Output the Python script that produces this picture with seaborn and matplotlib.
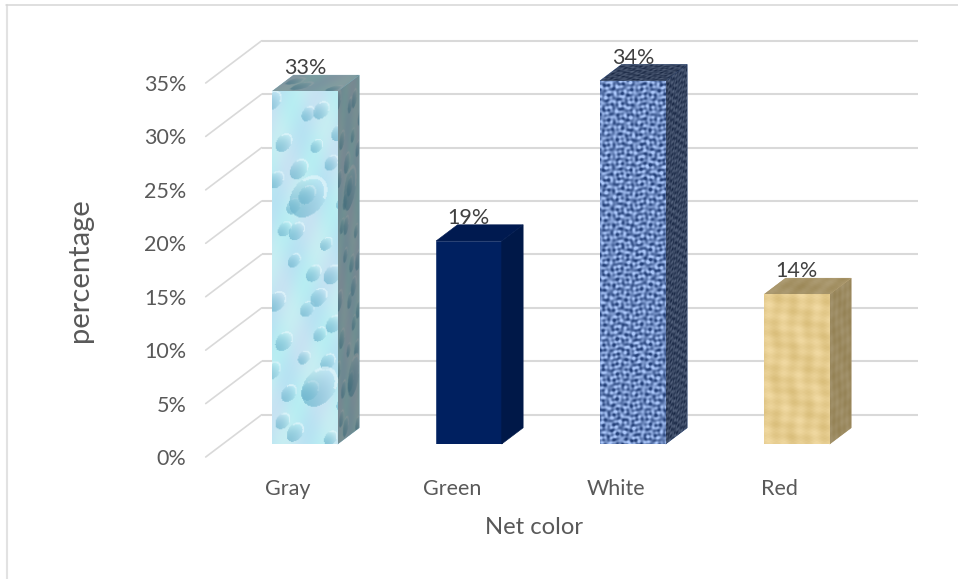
import numpy as np
import pandas as pd
import matplotlib
matplotlib.use("Agg")
import matplotlib.pyplot as plt
from matplotlib.lines import Line2D
from matplotlib.patches import Polygon
from matplotlib.transforms import Affine2D, IdentityTransform
import seaborn as sns

# Chart values
categories = ["Gray", "Green", "White", "Red"]
percentages = [33, 19, 34, 14]
y_ticks = [0, 5, 10, 15, 20, 25, 30, 35]

# Per-bar colours: front (fallback), side face, top face
front_colors = ["#BDE6F2", "#002060", "#6F93CF", "#EBD193"]
side_colors = ["#6F9BA8", "#001848", "#2F4A7C", "#A8946A"]
top_colors = ["#7AA3AE", "#001A50", "#34507F", "#B39D70"]
side_shade = [0.60, 1.0, 0.52, 0.68]
top_shade = [0.66, 1.0, 0.50, 0.72]

GRID = "#D9D9D9"
TICK_TEXT = "#595959"
VALUE_TEXT = "#404040"

W, H, DPI = 958, 579, 100
# Plot box of the front plane, in pixels from the top-left corner
LEFT, RIGHT, BASE, TOP = 205.7, 861.7, 457.0, 83.0
# Oblique projection of the full floor depth, in pixels
DEPTH_X, DEPTH_Y = 56.0, 42.3
BAR_NEAR, BAR_FAR = 0.307, 0.69

sns.set_theme(style="white")
plt.rcParams["font.family"] = ["Lato", "DejaVu Sans"]

df = pd.DataFrame({"Net color": categories, "percentage": percentages})


def water_texture(h=360, w=70):
    """Pale blue surface covered with slanted droplets."""
    yy, xx = np.mgrid[0:h, 0:w].astype(float)
    rgb = np.zeros((h, w, 3))
    rgb[..., 0] = 0.75 + 0.03 * np.sin(xx / 9.0 + yy / 23.0)
    rgb[..., 1] = 0.91 + 0.02 * np.sin(xx / 7.0 - yy / 17.0)
    rgb[..., 2] = 0.95
    # Drops on a staggered lattice, nudged so that rows do not read as lines
    drops = []
    for row in range(11):
        for col in range(3):
            k = row * 3 + col + 1
            cx = (col + 0.25 + 0.5 * (row % 2)) * 25 + 7 * np.sin(k * 2.4)
            cy = row * 33 + 14 + 9 * np.sin(k * 1.7)
            drops.append((cx, cy, 6.5 + 3.5 * ((k * 0.3819) % 1)))
    drops += [(38, 252, 20), (50, 58, 19)]
    cos, sin = np.cos(np.radians(50)), np.sin(np.radians(50))
    for cx, cy, r in drops:
        dx, dy = xx - cx, yy - cy
        u = dx * cos + dy * sin
        v = -dx * sin + dy * cos
        d = (u / (r * 1.2)) ** 2 + (v / (r * 0.85)) ** 2
        mask = d < 1
        # Dome shading: deeper towards the lower-left of each drop
        shade = np.clip(0.40 - 0.40 * (u / (r * 1.2)) - 0.15 * d, 0, 0.68)
        for c, tone in enumerate((0.42, 0.70, 0.80)):
            rgb[..., c][mask] = (rgb[..., c] * (1 - shade) + tone * shade)[mask]
        rim = (d > 0.70) & (d < 1) & (u > 0.45 * r)
        rgb[rim] = rgb[rim] * 0.35 + 0.65 * np.array([0.90, 0.97, 0.99])
    return np.clip(rgb, 0, 1)


def canvas_texture(h=360, w=70):
    """Coarse blue woven cloth with uneven threads."""
    yy, xx = np.mgrid[0:h, 0:w].astype(float)
    warp = np.sin(xx * 1.27 + 0.9 * np.sin(yy * 0.19))
    weft = np.sin(yy * 1.27 + 0.9 * np.sin(xx * 0.23))
    slub = (np.sin(xx * 0.47 + yy * 0.21) * np.sin(yy * 0.53 - xx * 0.17)
            + 0.8 * np.sin(xx * 0.83 - yy * 0.37) * np.sin(yy * 0.91 + xx * 0.29)
            + 0.6 * np.sin(xx * 0.31 - yy * 0.67) * np.sin(xx * 0.71 + yy * 0.13))
    t = np.clip(0.52 + 0.13 * warp + 0.20 * weft + 0.30 * slub, 0, 1)[..., None]
    dark = np.array([0.14, 0.25, 0.47])
    light = np.array([0.68, 0.79, 0.99])
    return dark * (1 - t) + light * t


def papyrus_texture(h=360, w=70):
    """Sandy parchment with faint fibres."""
    yy, xx = np.mgrid[0:h, 0:w].astype(float)
    t = (0.5 * np.sin(xx * 0.37 + 0.5 * np.sin(yy * 0.05)) + 0.35 * np.sin(yy * 0.23 + xx * 0.03)
         + 0.22 * np.sin(xx * 1.1) * np.sin(yy * 0.9) + 0.4 * np.sin(yy * 0.06 + xx * 0.13))
    t = np.clip(0.5 + 0.30 * t, 0, 1)[..., None]
    dark = np.array([0.84, 0.73, 0.46])
    light = np.array([0.96, 0.87, 0.66])
    return dark * (1 - t) + light * t


textures = [water_texture(), None, canvas_texture(), papyrus_texture()]

fig = plt.figure(figsize=(W / DPI, H / DPI), dpi=DPI, facecolor="white")


def box(left, right, bottom, top):
    return [left / W, (H - bottom) / H, (right - left) / W, (bottom - top) / H]


ax = fig.add_axes(box(LEFT, RIGHT, BASE, TOP))
ax.set_xlim(-0.5, 3.5)
ax.set_ylim(0, 35)
ax.set_facecolor("none")
for spine in ax.spines.values():
    spine.set_visible(False)

# Chart frame: left and top edges only
fig.add_artist(Line2D([6.5 / W, 6.5 / W], [0, 1 - 4.5 / H], color="#E2E2E2", lw=1.5))
fig.add_artist(Line2D([6 / W, 1], [1 - 4.5 / H] * 2, color="#D6D6D6", lw=1.1))

# Back wall and side wall gridlines
wall = Affine2D().translate(DEPTH_X, DEPTH_Y)
for tick in y_ticks:
    ax.plot([-0.5, 3.5], [tick, tick], color=GRID, lw=1.5, clip_on=False,
            transform=ax.transData + wall, solid_capstyle="butt", zorder=1)
    x0, y0 = ax.transData.transform((-0.5, tick))
    ax.add_line(Line2D([x0, x0 + DEPTH_X], [y0, y0 + DEPTH_Y], color=GRID, lw=1.2,
                       transform=IdentityTransform(), clip_on=False, zorder=1))

ax.set_xticks(range(len(categories)))
ax.set_xticklabels(categories)
ax.set_yticks(y_ticks)
ax.set_yticklabels([f"{t}%" for t in y_ticks])
ax.tick_params(axis="x", length=0, pad=16, labelsize=15.5, labelcolor=TICK_TEXT)
ax.tick_params(axis="y", length=0, pad=14, labelsize=15.5, labelcolor=TICK_TEXT)
ax.set_xlabel("Net color", fontsize=17.2, color=TICK_TEXT, va="center")
ax.set_ylabel("percentage", fontsize=21, color=TICK_TEXT, va="center")
ax.xaxis.set_label_coords(0.5, (BASE - 528) / (BASE - TOP))
ax.yaxis.set_label_coords((80 - LEFT) / (RIGHT - LEFT), 0.5)

# Bars sit on a plane shifted into the floor depth
near_x, near_y = BAR_NEAR * DEPTH_X, BAR_NEAR * DEPTH_Y
ax_bars = fig.add_axes(box(LEFT + near_x, RIGHT + near_x, BASE - near_y, TOP - near_y))
ax_bars.patch.set_alpha(0)
sns.barplot(data=df, x="Net color", y="percentage", hue="Net color", hue_order=categories,
            palette=front_colors, width=0.4, saturation=1, legend=False, ax=ax_bars, zorder=2)
ax_bars.set_xlim(-0.5, 3.5)
ax_bars.set_ylim(0, 35)
ax_bars.set_autoscale_on(False)
ax_bars.axis("off")

bars = sorted(ax_bars.patches, key=lambda p: p.get_x())
extra_x = (BAR_FAR - BAR_NEAR) * DEPTH_X
extra_y = (BAR_FAR - BAR_NEAR) * DEPTH_Y


def textured(tex, origin, u, v, outline, zorder=3):
    matrix = Affine2D.from_values(u[0], u[1], v[0], v[1], origin[0], origin[1])
    rgba = np.dstack([tex, np.ones(tex.shape[:2])])
    image = ax_bars.imshow(rgba, extent=(0, 1, 0, 1), origin="lower", aspect="auto",
                           interpolation="bilinear", transform=matrix, zorder=zorder)
    image.set_clip_path(Polygon(outline, closed=True, transform=IdentityTransform()))
    image.set_clip_box(fig.bbox)


for i, bar in enumerate(bars):
    xa, ya = ax_bars.transData.transform((bar.get_x(), 0))
    xb, yb = ax_bars.transData.transform((bar.get_x() + bar.get_width(), bar.get_height()))
    front = [(xa, ya), (xb, ya), (xb, yb), (xa, yb)]
    side = [(xb, ya), (xb + extra_x, ya + extra_y), (xb + extra_x, yb + extra_y), (xb, yb)]
    top = [(xa, yb), (xb, yb), (xb + extra_x, yb + extra_y), (xa + extra_x, yb + extra_y)]
    bar.set_edgecolor(front_colors[i])
    bar.set_linewidth(0.4)
    for pts, colour in ((side, side_colors[i]), (top, top_colors[i])):
        ax_bars.add_patch(Polygon(pts, closed=True, facecolor=colour, edgecolor=colour, lw=0.4,
                                  transform=IdentityTransform(), clip_on=False, zorder=2))
    if textures[i] is not None:
        tex = textures[i]
        textured(tex, (xa, ya), (xb - xa, 0), (0, yb - ya), front)
        textured(tex * side_shade[i], (xb, ya), (extra_x, extra_y), (0, yb - ya), side)
        textured(tex[:40] * top_shade[i], (xa, yb), (xb - xa, 0), (extra_x, extra_y), top)
    ax_bars.annotate(f"{percentages[i]}%", (bar.get_x() + bar.get_width() / 2, bar.get_height()),
                     xytext=(0, 17 * 72 / DPI), textcoords="offset points", ha="center", va="baseline",
                     fontsize=15.5, color=VALUE_TEXT, annotation_clip=False, zorder=6)

fig.savefig("out.png", dpi=DPI, facecolor="white")
